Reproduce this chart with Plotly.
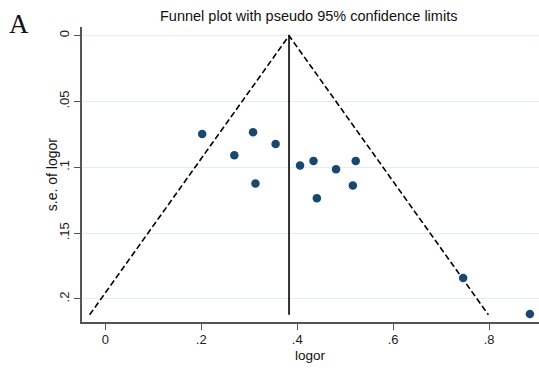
import plotly.graph_objects as go

# Study estimates: log odds ratio and its standard error
logor = [0.202, 0.308, 0.269, 0.313, 0.355, 0.406, 0.434, 0.441, 0.481, 0.522, 0.516, 0.746, 0.885]
se_logor = [0.0746, 0.0733, 0.0908, 0.1123, 0.0822, 0.0986, 0.0951, 0.1234, 0.1014, 0.0951, 0.1138, 0.1841, 0.2114]

# Pooled estimate and the largest standard error bounding the funnel
pooled = 0.383
se_max = 0.212
z95 = 1.96

x_ticks = [0, 0.2, 0.4, 0.6, 0.8]
x_tick_labels = ["0", ".2", ".4", ".6", ".8"]
y_ticks = [0, 0.05, 0.1, 0.15, 0.2]
y_tick_labels = ["0", ".05", ".1", ".15", ".2"]

W, H = 539, 372
L, R, T, B = 81.7, 0, 27, 49.7
PW, PH = W - L - R, H - T - B

fig = go.Figure()

# Pseudo 95% confidence limits
fig.add_trace(go.Scatter(
    x=[pooled - z95 * se_max, pooled, pooled + z95 * se_max],
    y=[se_max, 0, se_max],
    mode="lines",
    line=dict(color="black", width=1.6, dash="6px,3px"),
    hoverinfo="skip", showlegend=False,
))

# Pooled estimate line
fig.add_trace(go.Scatter(
    x=[pooled, pooled], y=[0, se_max],
    mode="lines",
    line=dict(color="black", width=1.6),
    hoverinfo="skip", showlegend=False,
))

# Individual studies
fig.add_trace(go.Scatter(
    x=logor, y=se_logor,
    mode="markers",
    marker=dict(color="#1a476f", size=8.5),
    showlegend=False,
))

axis_font = dict(family="Liberation Sans, Arial, sans-serif", size=13, color="#222")

fig.update_layout(
    width=W, height=H,
    margin=dict(l=L, r=R, t=T, b=B, pad=0),
    plot_bgcolor="white", paper_bgcolor="white",
    xaxis=dict(
        range=[-0.0485, 0.904],
        tickvals=x_ticks, ticktext=x_tick_labels,
        ticks="outside", ticklen=6, tickcolor="#555", tickwidth=1,
        showline=True, linecolor="#555", linewidth=1.5,
        showgrid=False, zeroline=False,
        tickfont=axis_font, ticklabelstandoff=-1,
    ),
    yaxis=dict(
        range=[0.2175, -0.0066],
        tickvals=y_ticks, ticktext=y_tick_labels,
        ticks="outside", ticklen=6, tickcolor="#555", tickwidth=1,
        showline=True, linecolor="#555", linewidth=1.5,
        showgrid=True, gridcolor="#e4eef0", gridwidth=1,
        zeroline=False, tickangle=-90,
        tickfont=axis_font,
    ),
    annotations=[
        dict(text="Funnel plot with pseudo 95% confidence limits",
             xref="paper", yref="paper", x=(308 - L) / PW, y=(H - B - 16) / PH,
             xanchor="center", yanchor="middle", showarrow=False,
             font=dict(family="Liberation Sans, Arial, sans-serif", size=14.5, color="#111")),
        dict(text="logor",
             xref="paper", yref="paper", x=(310 - L) / PW, y=(H - B - 356) / PH,
             xanchor="center", yanchor="middle", showarrow=False,
             font=dict(family="Liberation Sans, Arial, sans-serif", size=13.5, color="#111")),
        dict(text="s.e. of logor", textangle=-90,
             xref="paper", yref="paper", x=(52 - L) / PW, y=(H - B - 175) / PH,
             xanchor="center", yanchor="middle", showarrow=False,
             font=dict(family="Liberation Sans, Arial, sans-serif", size=14, color="#111")),
        dict(text="A",
             xref="paper", yref="paper", x=(19 - L) / PW, y=(H - B - 24) / PH,
             xanchor="center", yanchor="middle", showarrow=False,
             font=dict(family="Liberation Serif, Times New Roman, serif", size=27, color="#111")),
    ],
)

fig.write_html("out.html")
